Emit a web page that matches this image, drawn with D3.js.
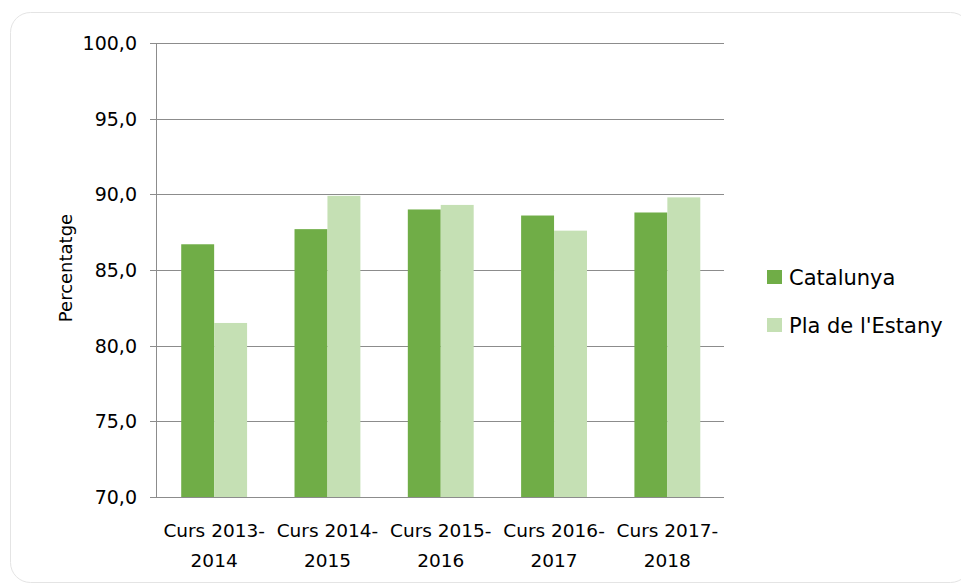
<!DOCTYPE html>
<html>
<head>
<meta charset="utf-8" />
<title>Percentatge</title>
<script src="https://cdn.jsdelivr.net/npm/d3@7"></script>
<style>
body {
	margin: 0;
	padding: 0;
	background-color: #fff;
}
svg {
	display: block;
}
text {
	font-family: "DejaVu Sans", sans-serif;
	fill: #000;
}
</style>
</head>
<body>
<svg></svg>
<script>

/* data */
var cursos = ["Curs 2013-2014", "Curs 2014-2015", "Curs 2015-2016", "Curs 2016-2017", "Curs 2017-2018"];
var series = ["Catalunya", "Pla de l'Estany"];
var catalunya = [86.7, 87.7, 89.0, 88.6, 88.8];
var plaEstany = [81.5, 89.9, 89.3, 87.6, 89.8];
var yTicks = [70, 75, 80, 85, 90, 95, 100];

var colors = ["#70ad47", "#c5e0b4"];

var w = 961, h = 585;
var svg = d3.select("svg").attr("width", w).attr("height", h);

// frame
svg.append("rect")
	.attr("x", 10.5).attr("y", 12.5)
	.attr("width", 960).attr("height", 570)
	.attr("rx", 20).attr("ry", 20)
	.style("fill", "#fff")
	.style("stroke", "#e4e4e4");

// plot area (pixels)
var pLeft = 156, pRight = 724, pTop = 43, pBottom = 497;

var y = d3.scaleLinear().domain([70, 100]).range([pBottom, pTop]);
var x = d3.scaleBand().domain(cursos).range([pLeft + 1.5, pRight]).padding(0);
var xs = d3.scaleBand().domain(series).range([0, x.bandwidth()])
	.paddingInner(0).paddingOuter(0.72);

// gridlines
svg.append("g").selectAll("line")
	.data(yTicks)
	.enter().append("line")
	.attr("x1", pLeft - 6).attr("x2", pRight)
	.attr("y1", function(d) { return Math.round(y(d)) + 0.5; })
	.attr("y2", function(d) { return Math.round(y(d)) + 0.5; })
	.style("stroke", "#8c8c8c")
	.style("stroke-width", 1);

// y axis line
svg.append("line")
	.attr("x1", pLeft + 0.5).attr("x2", pLeft + 0.5)
	.attr("y1", pTop).attr("y2", pBottom)
	.style("stroke", "#8c8c8c");

// y tick labels
svg.append("g").selectAll("text")
	.data(yTicks)
	.enter().append("text")
	.attr("x", 137)
	.attr("y", function(d) { return y(d); })
	.attr("dy", "0.36em")
	.style("text-anchor", "end")
	.style("font-size", "19px")
	.text(function(d) { return d3.format(".1f")(d).replace(".", ","); });

// y title
svg.append("text")
	.attr("transform", "translate(72,268) rotate(-90)")
	.style("text-anchor", "middle")
	.style("font-size", "18px")
	.text("Percentatge");

// bars
var rows = cursos.map(function(c, i) {
	return { curs: c, values: [catalunya[i], plaEstany[i]] };
});
var groups = svg.append("g").selectAll("g")
	.data(rows)
	.enter().append("g")
	.attr("transform", function(d) { return "translate(" + x(d.curs) + ",0)"; });
groups.selectAll("rect")
	.data(function(d) {
		return d.values.map(function(v, j) { return { s: series[j], v: v, j: j }; });
	})
	.enter().append("rect")
	.attr("x", function(d) { return xs(d.s); })
	.attr("width", xs.bandwidth())
	.attr("y", function(d) { return y(d.v); })
	.attr("height", function(d) { return pBottom - y(d.v); })
	.style("fill", function(d) { return colors[d.j]; });

// x labels, two lines each
svg.append("g").selectAll("text")
	.data(cursos)
	.enter().append("text")
	.style("text-anchor", "middle")
	.style("font-size", "18.5px")
	.each(function(d) {
		var parts = d.split("-");
		var t = d3.select(this);
		var cx = x(d) + x.bandwidth() / 2;
		t.append("tspan").attr("x", cx).attr("y", 537).text(parts[0] + "-");
		t.append("tspan").attr("x", cx).attr("y", 567).text(parts[1]);
	});

// legend
var legend = svg.append("g").selectAll("g")
	.data(series)
	.enter().append("g")
	.attr("transform", function(d, i) { return "translate(767," + (270 + i * 48) + ")"; });
legend.append("rect")
	.attr("width", 15).attr("height", 14)
	.style("fill", function(d, i) { return colors[i]; });
legend.append("text")
	.attr("x", 22).attr("y", 15)
	.style("font-size", "21px")
	.text(function(d) { return d; });

</script>
</body>
</html>
